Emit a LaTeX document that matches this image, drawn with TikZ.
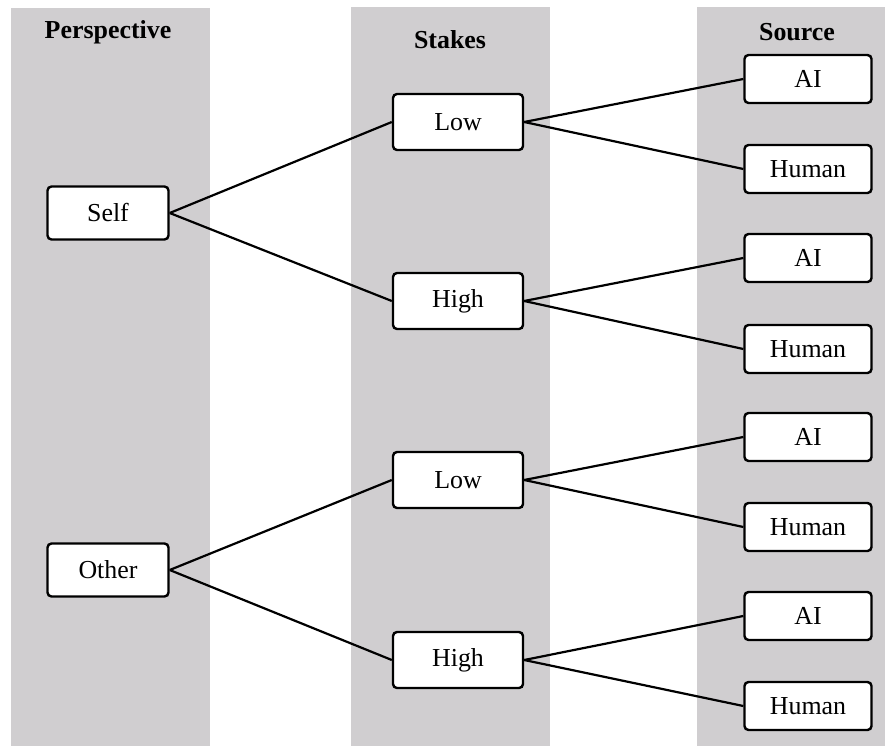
\documentclass[tikz,border=0pt]{standalone}
\usepackage{fontspec}
\setmainfont{Liberation Serif}
\definecolor{colgray}{RGB}{208,206,208}
\begin{document}
\begin{tikzpicture}[x=1bp,y=-1bp,
  box/.style={draw=black,line width=2.4bp,rounded corners=4bp,fill=white,inner sep=0pt,font=\fontsize{26}{30}\selectfont},
  lvl1/.style={box,minimum width=121bp,minimum height=53bp},
  lvl2/.style={box,minimum width=130bp,minimum height=56bp},
  lvl3/.style={box,minimum width=127bp,minimum height=48bp},
  head/.style={font=\fontsize{26}{30}\selectfont\bfseries},
  link/.style={draw=black,line width=2.2bp}]
\useasboundingbox (0,0) rectangle (885,746);
\fill[colgray] (11,8) rectangle (210,746);
\fill[colgray] (351,7) rectangle (550,746);
\fill[colgray] (697,7) rectangle (885,746);
\node[head] (h1) at (108,32) {Perspective};
\node[head] (h2) at (450,40) {Stakes};
\node[head] (h3) at (797,32) {Source};
\node[lvl1] (self) at (108,213) {Self};
\node[lvl1] (other) at (108,570) {Other};
\node[lvl2] (low1) at (458,122) {Low};
\node[lvl2] (high1) at (458,301) {High};
\node[lvl2] (low2) at (458,480) {Low};
\node[lvl2] (high2) at (458,660) {High};
\node[lvl3] (ai1) at (808,79) {AI};
\node[lvl3] (hu1) at (808,169) {Human};
\node[lvl3] (ai2) at (808,258) {AI};
\node[lvl3] (hu2) at (808,349) {Human};
\node[lvl3] (ai3) at (808,437) {AI};
\node[lvl3] (hu3) at (808,527) {Human};
\node[lvl3] (ai4) at (808,616) {AI};
\node[lvl3] (hu4) at (808,706) {Human};
\draw[link] (self.east) -- (low1.west);
\draw[link] (self.east) -- (high1.west);
\draw[link] (other.east) -- (low2.west);
\draw[link] (other.east) -- (high2.west);
\draw[link] (low1.east) -- (ai1.west);
\draw[link] (low1.east) -- (hu1.west);
\draw[link] (high1.east) -- (ai2.west);
\draw[link] (high1.east) -- (hu2.west);
\draw[link] (low2.east) -- (ai3.west);
\draw[link] (low2.east) -- (hu3.west);
\draw[link] (high2.east) -- (ai4.west);
\draw[link] (high2.east) -- (hu4.west);
\end{tikzpicture}
\end{document}
